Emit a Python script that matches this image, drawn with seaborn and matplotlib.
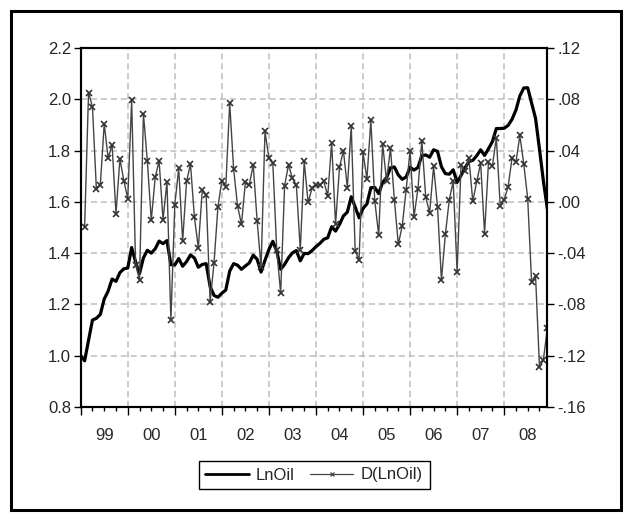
import numpy as np
import pandas as pd
import matplotlib
matplotlib.use("Agg")
import matplotlib.pyplot as plt
import seaborn as sns
from matplotlib.ticker import FixedLocator, FuncFormatter, FixedFormatter, NullFormatter
from matplotlib.patches import Rectangle
from matplotlib.lines import Line2D

# ---------------- data (monthly, 1999M01 - 2008M12) ----------------
start_year = 1999
lnoil = [
    1.000, 0.980, 1.060, 1.139, 1.146, 1.161, 1.221, 1.252, 1.299, 1.290, 1.324, 1.339,
    1.342, 1.422, 1.366, 1.320, 1.382, 1.411, 1.400, 1.417, 1.447, 1.437, 1.449, 1.355,
    1.354, 1.379, 1.349, 1.367, 1.393, 1.381, 1.345, 1.356, 1.359, 1.270, 1.235, 1.228,
    1.244, 1.256, 1.330, 1.359, 1.353, 1.337, 1.350, 1.362, 1.392, 1.376, 1.326, 1.372,
    1.414, 1.446, 1.408, 1.337, 1.356, 1.382, 1.401, 1.410, 1.370, 1.399, 1.398, 1.410,
    1.425, 1.438, 1.454, 1.460, 1.503, 1.486, 1.512, 1.545, 1.560, 1.620, 1.580, 1.538,
    1.574, 1.592, 1.655, 1.656, 1.632, 1.676, 1.694, 1.733, 1.736, 1.705, 1.688, 1.697,
    1.735, 1.724, 1.734, 1.780, 1.783, 1.774, 1.803, 1.797, 1.737, 1.710, 1.708, 1.725,
    1.676, 1.703, 1.732, 1.757, 1.762, 1.780, 1.803, 1.781, 1.807, 1.835, 1.886, 1.886,
    1.887, 1.898, 1.922, 1.958, 2.013, 2.044, 2.045, 1.985, 1.926, 1.806, 1.682, 1.573,
]
d_lnoil = [
    -0.0196, 0.0852, 0.0740, 0.0099, 0.0131, 0.0609, 0.0342, 0.0447, -0.0092, 0.0335, 0.0165,
    0.0026, 0.0792, -0.0489, -0.0609, 0.0688, 0.0316, -0.0144, 0.0191, 0.0319, -0.0139, 0.0157, -0.0923,
    -0.0021, 0.0261, -0.0306, 0.0159, 0.0295, -0.0120, -0.0358, 0.0092, 0.0055, -0.0782, -0.0476, -0.0039,
    0.0165, 0.0118, 0.0771, 0.0256, -0.0031, -0.0175, 0.0152, 0.0133, 0.0288, -0.0149, -0.0510, 0.0549,
    0.0342, 0.0301, -0.0379, -0.0711, 0.0125, 0.0290, 0.0183, 0.0133, -0.0376, 0.0316, -0.0005, 0.0107,
    0.0133, 0.0128, 0.0160, 0.0047, 0.0460, -0.0175, 0.0270, 0.0400, 0.0111, 0.0590, -0.0384, -0.0450,
    0.0387, 0.0178, 0.0635, 0.0008, -0.0260, 0.0452, 0.0165, 0.0418, 0.0016, -0.0332, -0.0188, 0.0094,
    0.0400, -0.0118, 0.0099, 0.0478, 0.0034, -0.0084, 0.0277, -0.0037, -0.0609, -0.0254, 0.0016, 0.0159,
    -0.0546, 0.0290, 0.0238, 0.0342, 0.0003, 0.0159, 0.0303, -0.0248, 0.0308, 0.0282, 0.0499, -0.0031,
    0.0016, 0.0118, 0.0340, 0.0308, 0.0518, 0.0295, 0.0026, -0.0627, -0.0575, -0.1286, -0.1234, -0.0986,
]
year_labels = ["99", "00", "01", "02", "03", "04", "05", "06", "07", "08"]
left_ticks = [0.8, 1.0, 1.2, 1.4, 1.6, 1.8, 2.0, 2.2]
right_ticks = [-0.16, -0.12, -0.08, -0.04, 0.00, 0.04, 0.08, 0.12]

# ---------------- style ----------------
sns.set_theme(style="white")
plt.rcParams['font.family'] = ['Liberation Sans', 'DejaVu Sans']
FS = 12

n = len(lnoil)
t = start_year + np.arange(n) / 12.0
df = pd.DataFrame({"t": t, "LnOil": lnoil, "D(LnOil)": [np.nan] + d_lnoil})

W, H = 630, 520
fig = plt.figure(figsize=(W / 100, H / 100), dpi=100)
x0, x1, y0, y1 = 80.7, 547.3, 48.0, 407.0
ax = fig.add_axes([x0 / W, 1 - y1 / H, (x1 - x0) / W, (y1 - y0) / H])
ax2 = ax.twinx()

sns.lineplot(data=df, x="t", y="LnOil", ax=ax, color="black", linewidth=2.3, legend=False)
sns.lineplot(data=df.dropna(), x="t", y="D(LnOil)", ax=ax2, color="#444444", linewidth=1.0,
             marker="x", markersize=4.8, markeredgewidth=1.2, markeredgecolor="#333333", legend=False)

ax.set_xlim(start_year, start_year + (n - 1) / 12.0)
ax.set_ylim(0.8, 2.2)
ax2.set_ylim(-0.16, 0.12)

# y ticks
ax.yaxis.set_major_locator(FixedLocator(left_ticks))
ax.yaxis.set_major_formatter(FuncFormatter(lambda v, p: f"{v:.1f}"))
def rfmt(v, p):
    v = round(v, 2)
    s = f"{abs(v):.2f}".replace("0.", ".", 1)
    return ("-" if v < 0 else "") + s
ax2.yaxis.set_major_locator(FixedLocator(right_ticks))
ax2.yaxis.set_major_formatter(FuncFormatter(rfmt))

# x ticks: years as major (unlabelled), quarters minor with labels mid-year
years = list(range(start_year, start_year + len(year_labels)))
ax.xaxis.set_major_locator(FixedLocator(years))
ax.xaxis.set_major_formatter(NullFormatter())
minor_pos, minor_lab = [], []
xmax = start_year + (n - 1) / 12.0
for i, y in enumerate(years):
    for q in (0.25, 0.5, 0.75):
        if y + q <= xmax + 1e-9:
            minor_pos.append(y + q)
            minor_lab.append(year_labels[i] if q == 0.5 else "")
ax.xaxis.set_minor_locator(FixedLocator(minor_pos))
ax.xaxis.set_minor_formatter(FixedFormatter(minor_lab))

ax.tick_params(axis='x', which='major', length=5.5, width=1.0, direction='out', bottom=True, color='black')
ax.tick_params(axis='x', which='minor', length=3.2, width=1.0, direction='out', bottom=True,
               pad=12, labelsize=FS, color='black')
ax.tick_params(axis='y', which='major', length=5, width=1.0, direction='out', left=True,
               pad=2, labelsize=FS, color='black')
ax2.tick_params(axis='y', which='major', length=5, width=1.0, direction='out', right=True,
                pad=2, labelsize=FS, color='black')
ax.set_xlabel("")
ax.set_ylabel("")
ax2.set_ylabel("")

# grid
grid_kw = dict(color="#bdbdbd", linestyle=(0, (4, 2.5)), linewidth=1.1)
ax.yaxis.grid(True, **grid_kw)
ax.xaxis.grid(True, which='major', **grid_kw)
ax.set_axisbelow(True)

for a in (ax, ax2):
    for s in a.spines.values():
        s.set_color("black")
        s.set_linewidth(1.5)

# legend
handles = [
    Line2D([], [], color="black", linewidth=2.0),
    Line2D([], [], color="#444444", linewidth=0.9, marker="x", markersize=3.5, markeredgewidth=0.9),
]
fig.legend(handles, ["LnOil", "D(LnOil)"], loc="center", bbox_to_anchor=(314 / W, 1 - 475 / H),
           ncol=2, frameon=True, fancybox=False, shadow=False, edgecolor="black", framealpha=1,
           fontsize=FS, handlelength=2.6, columnspacing=0.9, handletextpad=0.45,
           borderpad=0.4)
leg = fig.legends[0]
leg.get_frame().set_linewidth(1.0)

# outer frame
fig.patches.append(Rectangle((11 / W, 1 - 510 / H), (621 - 11) / W, (510 - 11) / H,
                             transform=fig.transFigure, fill=False, edgecolor="black",
                             linewidth=2.2, zorder=10))

fig.savefig("out.png", dpi=100, facecolor="white")
